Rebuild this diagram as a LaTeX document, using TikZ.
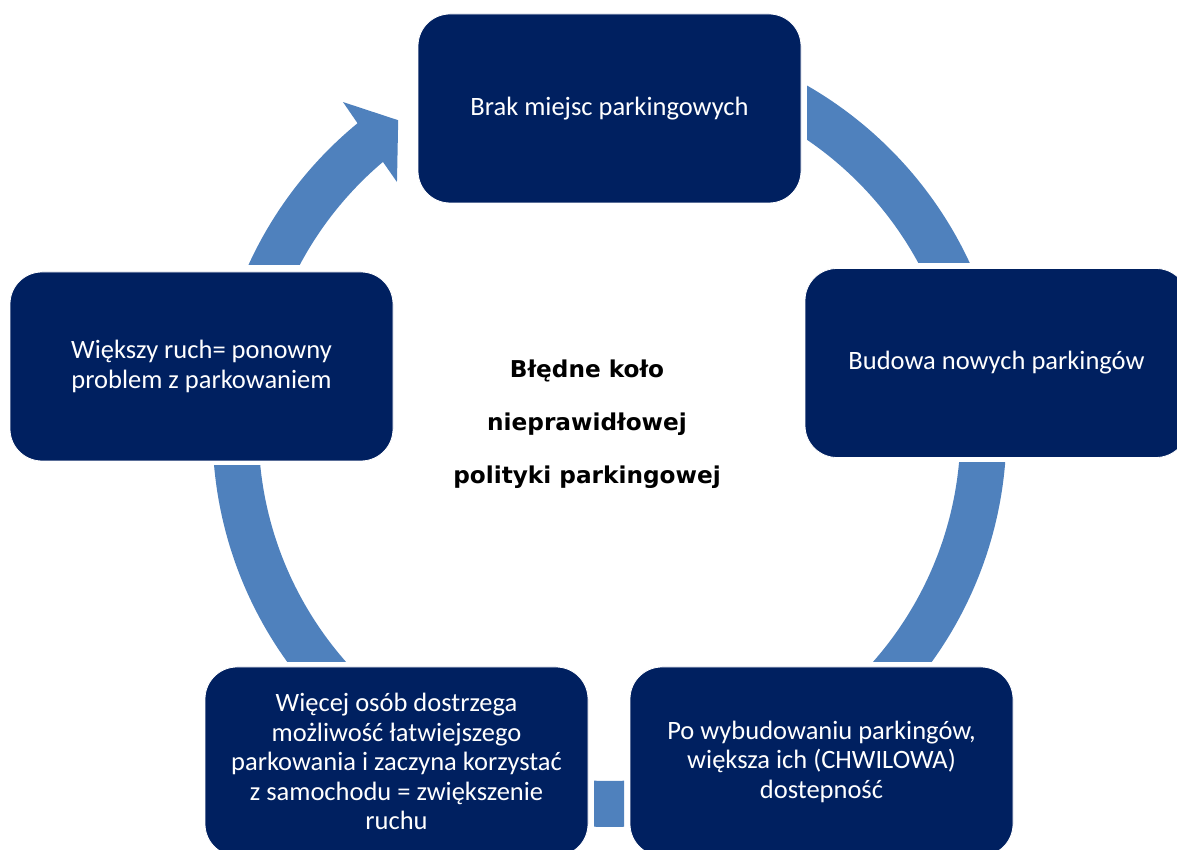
\documentclass[tikz,border=0pt]{standalone}
\usepackage{fontspec}
\setmainfont{Carlito}
\newfontfamily\centerfont{DejaVu Sans}
\definecolor{boxnavy}{RGB}{0,32,96}
\definecolor{ringblue}{RGB}{79,129,189}
\tikzset{
  stagebox/.style={fill=boxnavy, draw=white, line width=0.8pt, rounded corners=32pt,
    minimum width=383pt, minimum height=189pt, inner sep=0pt, text=white,
    align=center, font={\fontsize{26.5}{29.5}\selectfont}},
  ringpart/.style={fill=ringblue, draw=white, line width=0.6pt},
  centerlabel/.style={align=center, text=black, inner sep=0pt,
    font={\centerfont\bfseries\fontsize{23.2}{53}\selectfont}}
}
\begin{document}
\begin{tikzpicture}[x=1pt,y=1pt]
\useasboundingbox (0,0) rectangle (1177,850);
\clip (0,0) rectangle (1177,850);
% ring segments (centre of ring at image (609.5,430))
\begin{scope}[shift={(609.5,420)}]
  \begin{scope}
    \clip (197.5,167) rectangle (600,600);
    \fill[ringblue, even odd rule] (0,0) circle (397) (0,0) circle (351);
  \end{scope}
  \begin{scope}
    \clip (100,-232) rectangle (600,-33);
    \fill[ringblue, even odd rule] (0,0) circle (397) (0,0) circle (351);
  \end{scope}
  \begin{scope}
    \clip (-15.5,-600) rectangle (14.5,-300);
    \fill[ringblue, even odd rule] (0,0) circle (397) (0,0) circle (351);
  \end{scope}
  \begin{scope}
    \clip (-600,-232) rectangle (-100,-36);
    \fill[ringblue, even odd rule] (0,0) circle (397) (0,0) circle (351);
  \end{scope}
  \fill[ringblue] (155.44:397) arc[start angle=155.44, end angle=129.4, radius=397]
    -- (129.1:422.6) -- (124.3:375) -- (130.6:326.6) -- (130.2:351)
    arc[start angle=130.2, end angle=151.96, radius=351] -- cycle;
\end{scope}
% stages
\node[stagebox] (b1) at (609.5,741.5) {Brak miejsc parkingowych};
\node[stagebox] (b2) at (996.5,487) {Budowa nowych parkingów};
\node[stagebox] (b3) at (821.5,88.5) {Po wybudowaniu parkingów,\\większa ich (CHWILOWA)\\dostepność};
\node[stagebox] (b4) at (396.5,88.5) {Więcej osób dostrzega\\możliwość łatwiejszego\\parkowania i zaczyna korzystać\\z samochodu = zwiększenie\\ruchu};
\node[stagebox] (b5) at (201.5,483.5) {Większy ruch= ponowny\\problem z parkowaniem};
\node[centerlabel] (c) at (587,426) {Błędne koło\\nieprawidłowej\\polityki parkingowej};
\end{tikzpicture}
\end{document}
